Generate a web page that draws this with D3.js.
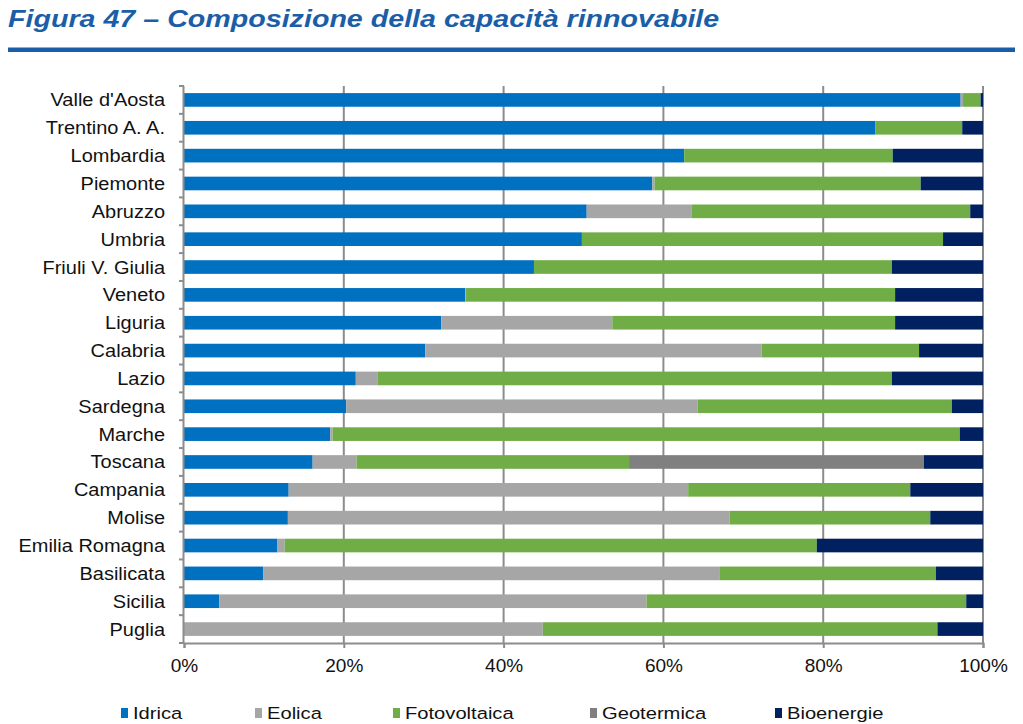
<!DOCTYPE html>
<html>
<head>
<meta charset="utf-8">
<script src="https://cdn.jsdelivr.net/npm/d3@7"></script>
<style>
  html, body { margin: 0; padding: 0; background: #fff; }
  svg { display: block; font-family: "Liberation Sans", Arial, sans-serif; }
</style>
</head>
<body>
<svg id="chart" width="1023" height="724"></svg>
<script>
const regions = ["Valle d'Aosta","Trentino A. A.","Lombardia","Piemonte","Abruzzo","Umbria","Friuli V. Giulia","Veneto","Liguria","Calabria","Lazio","Sardegna","Marche","Toscana","Campania","Molise","Emilia Romagna","Basilicata","Sicilia","Puglia"];
const seriesNames = ["Idrica","Eolica","Fotovoltaica","Geotermica","Bioenergie"];
const idrica       = [97.2, 86.5, 62.6, 58.6, 50.4, 49.8, 43.8, 35.2, 32.2, 30.2, 21.5, 20.3, 18.3, 16.1, 13.1, 13.0, 11.7,  9.9,  4.4,  0.0];
const eolica       = [ 0.3,  0.0,  0.0,  0.3, 13.1,  0.0,  0.0,  0.1, 21.4, 42.1,  2.7, 44.0,  0.3,  5.5, 50.0, 55.3,  0.9, 57.1, 53.5, 44.9];
const fotovoltaica = [ 2.2, 10.9, 26.1, 33.3, 34.9, 45.2, 44.8, 53.7, 35.4, 19.7, 64.4, 31.8, 78.5, 34.1, 27.8, 25.1, 66.6, 27.1, 40.0, 49.4];
const geotermica   = [ 0.0,  0.0,  0.0,  0.0,  0.0,  0.0,  0.0,  0.0,  0.0,  0.0,  0.0,  0.0,  0.0, 36.9,  0.0,  0.0,  0.0,  0.0,  0.0,  0.0];
const bioenergie   = [ 0.3,  2.6, 11.3,  7.8,  1.6,  5.0, 11.4, 11.0, 11.0,  8.0, 11.4,  3.9,  2.9,  7.4,  9.1,  6.6, 20.8,  5.9,  2.1,  5.7];
const xTicks = [0, 20, 40, 60, 80, 100];
const colors = ["#0070C0", "#A6A6A6", "#70AD47", "#808080", "#002060"];

const rows = regions.map((r, i) => ({
  region: r,
  Idrica: idrica[i], Eolica: eolica[i], Fotovoltaica: fotovoltaica[i],
  Geotermica: geotermica[i], Bioenergie: bioenergie[i]
}));

const svg = d3.select("#chart");

// Title (source raster is horizontally stretched)
svg.append("text")
  .attr("transform", "translate(8,27) scale(1.245,1)")
  .attr("fill", "#1B5EA8")
  .attr("font-size", 23).attr("font-weight", "bold").attr("font-style", "italic")
  .text("Figura 47 – Composizione della capacità rinnovabile");
svg.append("rect")
  .attr("x", 8).attr("y", 47.5).attr("width", 1007).attr("height", 4.5)
  .attr("fill", "#1B5EA8");

const x = d3.scaleLinear().domain([0, 100]).range([184, 983]);
const y = d3.scaleBand().domain(regions).range([86, 643]).paddingInner(0.51).paddingOuter(0.255);

// Gridlines
svg.append("g").selectAll("line")
  .data(xTicks.filter(t => t > 0))
  .join("line")
  .attr("x1", d => x(d)).attr("x2", d => x(d))
  .attr("y1", 86).attr("y2", 643)
  .attr("stroke", "#8C8C8C").attr("stroke-width", 2);

// Stacked bars
const stack = d3.stack().keys(seriesNames)(rows);
const color = d3.scaleOrdinal().domain(seriesNames).range(colors);
svg.append("g").selectAll("g")
  .data(stack)
  .join("g")
  .attr("fill", d => color(d.key))
  .selectAll("rect")
  .data(d => d)
  .join("rect")
  .attr("x", d => x(d[0]))
  .attr("width", d => Math.max(0, x(d[1]) - x(d[0])))
  .attr("y", d => y(d.data.region))
  .attr("height", y.bandwidth());

// Y axis (category labels + ticks at band boundaries)
const yAxisG = svg.append("g");
yAxisG.append("line")
  .attr("x1", 183.5).attr("x2", 183.5).attr("y1", 86).attr("y2", 644)
  .attr("stroke", "#8C8C8C").attr("stroke-width", 2);
const bounds = d3.range(regions.length + 1).map(i => 86 + i * y.step());
yAxisG.selectAll("line.tk")
  .data(bounds)
  .join("line").attr("class", "tk")
  .attr("x1", 179).attr("x2", 184)
  .attr("y1", d => d).attr("y2", d => d)
  .attr("stroke", "#8C8C8C").attr("stroke-width", 2);
yAxisG.selectAll("text")
  .data(regions)
  .join("text")
  .attr("transform", d => `translate(165,${y(d) + y.bandwidth() / 2}) scale(1.08,1)`)
  .attr("dy", "0.35em")
  .attr("text-anchor", "end")
  .attr("font-size", 18.5)
  .attr("fill", "#111")
  .text(d => d);

// X axis
const xAxis = d3.axisBottom(x).tickValues(xTicks).tickFormat(d => d + "%").tickSize(5).tickPadding(11);
const xg = svg.append("g").attr("transform", "translate(0,643)").call(xAxis);
xg.select(".domain").attr("stroke", "#8C8C8C").attr("stroke-width", 2);
xg.selectAll(".tick line").attr("stroke", "#8C8C8C").attr("stroke-width", 2);
xg.selectAll(".tick text")
  .attr("font-size", 19).attr("fill", "#111")
  .attr("font-family", "Liberation Sans, Arial, sans-serif");

// Legend
const legendX = [121, 255, 393, 590, 775];
const lg = svg.append("g").selectAll("g")
  .data(seriesNames)
  .join("g")
  .attr("transform", (d, i) => `translate(${legendX[i]},713)`);
lg.append("rect")
  .attr("x", 0).attr("y", -5).attr("width", 7).attr("height", 10)
  .attr("fill", d => color(d));
lg.append("text")
  .attr("transform", "translate(12,0) scale(1.2,1)")
  .attr("dy", "0.36em")
  .attr("font-size", 16.8).attr("fill", "#111")
  .text(d => d);
</script>
</body>
</html>
